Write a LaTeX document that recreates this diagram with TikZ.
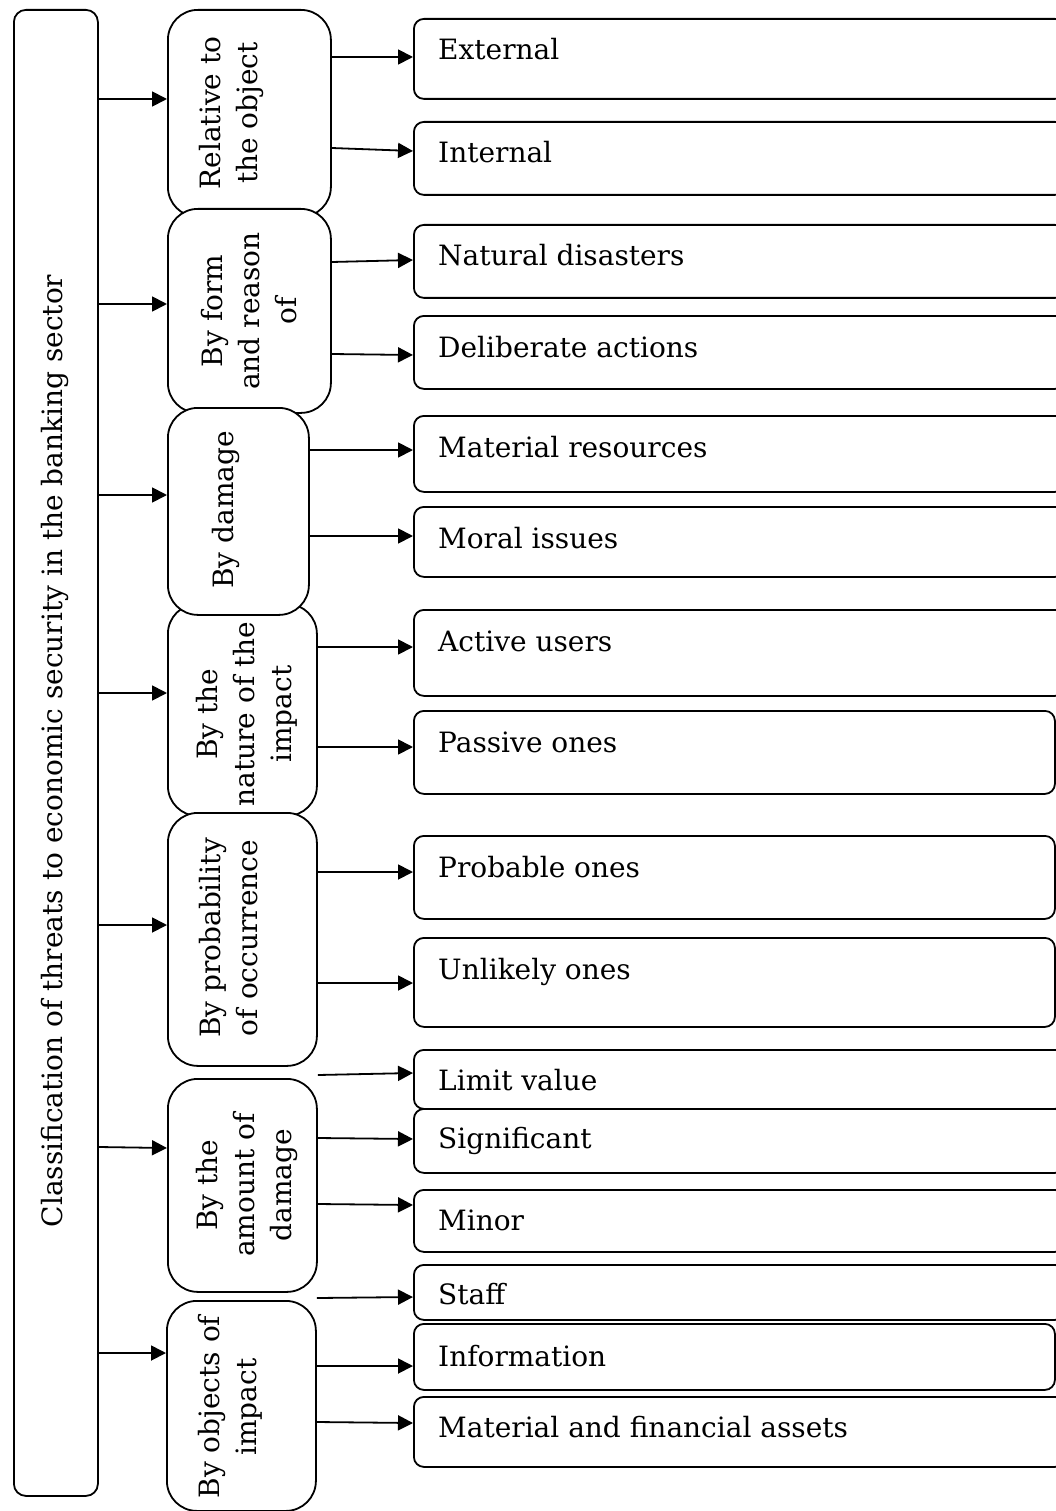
\documentclass[tikz,border=0pt]{standalone}
\usepackage{fontspec}
\setmainfont{DejaVu Serif}
\usetikzlibrary{arrows.meta}
\begin{document}
\begin{tikzpicture}[x=1pt, y=-1pt,
  boxbase/.style={draw=black, line width=1.8pt, fill=white, inner sep=0pt, anchor=north west},
  titlebox/.style={boxbase, rounded corners=12pt},
  groupbox/.style={boxbase, rounded corners=30pt},
  leafbox/.style={boxbase, rounded corners=10pt},
  vtext/.style={rotate=90, align=center, inner sep=0pt, font=\fontsize{28}{37}\selectfont},
  htext/.style={anchor=base west, inner sep=0pt, font=\fontsize{28}{37}\selectfont},
  arr/.style={line width=1.8pt, -{Triangle[length=15pt,width=15pt]}}
]
\path[use as bounding box, fill=white] (0,0) rectangle (1056,1511);

% root of the classification
\node[titlebox, minimum width=84pt, minimum height=1486pt] (T) at (13,9) {};
\node[vtext] (Tt) at (55,751) {Classification of threats to economic security in the banking sector};

% classification criteria
\node[groupbox, minimum width=163pt, minimum height=207pt] (m1) at (167,9) {};
\node[vtext] (m1t) at (231,113) {Relative to\\the object};
\node[groupbox, minimum width=163pt, minimum height=204pt] (m2) at (167,208) {};
\node[vtext] (m2t) at (249,311) {By form\\and reason\\of};
\node[groupbox, minimum width=149pt, minimum height=212pt] (m4) at (167,603) {};
\node[vtext] (m4t) at (247,714) {By the\\nature of the\\impact};
\node[groupbox, minimum width=141pt, minimum height=207pt] (m3) at (167,407) {};
\node[vtext] (m3t) at (226,510) {By damage};
\node[groupbox, minimum width=149pt, minimum height=253pt] (m5) at (167,812) {};
\node[vtext] (m5t) at (229,938) {By probability\\of occurrence};
\node[groupbox, minimum width=149pt, minimum height=213pt] (m6) at (167,1078) {};
\node[vtext] (m6t) at (247,1185) {By the\\amount of\\damage};
\node[groupbox, minimum width=149pt, minimum height=210pt] (m7) at (166,1300) {};
\node[vtext] (m7t) at (230,1407) {By objects of\\impact};

% kinds of threats
\node[leafbox, minimum width=651pt, minimum height=80pt] (r1) at (413,18) {};
\node[htext] (r1t) at (438,60) {External};
\node[leafbox, minimum width=651pt, minimum height=73pt] (r2) at (413,121) {};
\node[htext] (r2t) at (438,163) {Internal};
\node[leafbox, minimum width=651pt, minimum height=73pt] (r3) at (413,224) {};
\node[htext] (r3t) at (438,266) {Natural disasters};
\node[leafbox, minimum width=651pt, minimum height=73pt] (r4) at (413,315) {};
\node[htext] (r4t) at (438,357) {Deliberate actions};
\node[leafbox, minimum width=651pt, minimum height=76pt] (r5) at (413,415) {};
\node[htext] (r5t) at (438,457) {Material resources};
\node[leafbox, minimum width=651pt, minimum height=70pt] (r6) at (413,506) {};
\node[htext] (r6t) at (438,548) {Moral issues};
\node[leafbox, minimum width=651pt, minimum height=86pt] (r7) at (413,609) {};
\node[htext] (r7t) at (438,651) {Active users};
\node[leafbox, minimum width=641pt, minimum height=83pt] (r8) at (413,710) {};
\node[htext] (r8t) at (438,752) {Passive ones};
\node[leafbox, minimum width=641pt, minimum height=83pt] (r9) at (413,835) {};
\node[htext] (r9t) at (438,877) {Probable ones};
\node[leafbox, minimum width=641pt, minimum height=89pt] (r10) at (413,937) {};
\node[htext] (r10t) at (438,979) {Unlikely ones};
\node[leafbox, minimum width=651pt, minimum height=59pt] (r11) at (413,1049) {};
\node[htext] (r11t) at (438,1090) {Limit value};
\node[leafbox, minimum width=651pt, minimum height=64pt] (r12) at (413,1108) {};
\node[htext] (r12t) at (438,1148) {Significant};
\node[leafbox, minimum width=651pt, minimum height=62pt] (r13) at (413,1189) {};
\node[htext] (r13t) at (438,1230) {Minor};
\node[leafbox, minimum width=651pt, minimum height=55pt] (r14) at (413,1264) {};
\node[htext] (r14t) at (438,1304) {Staff};
\node[leafbox, minimum width=641pt, minimum height=66pt] (r15) at (413,1323) {};
\node[htext] (r15t) at (438,1366) {Information};
\node[leafbox, minimum width=651pt, minimum height=70pt] (r16) at (413,1396) {};
\node[htext] (r16t) at (438,1437) {Material and financial assets};

% root to criteria
\draw[arr] (T.east |- 0,99)   -- (m1.west |- 0,99);
\draw[arr] (T.east |- 0,304)  -- (m2.west |- 0,304);
\draw[arr] (T.east |- 0,495)  -- (m3.west |- 0,495);
\draw[arr] (T.east |- 0,693)  -- (m4.west |- 0,693);
\draw[arr] (T.east |- 0,925)  -- (m5.west |- 0,925);
\draw[arr] (T.east |- 0,1147) -- (m6.west |- 0,1148);
\draw[arr] (T.east |- 0,1353) -- (m7.west |- 0,1353);

% criteria to kinds
\draw[arr] (m1.east |- 0,57)   -- (r1.west |- 0,57);
\draw[arr] (m1.east |- 0,148)  -- (r2.west |- 0,151);
\draw[arr] (m2.east |- 0,262)  -- (r3.west |- 0,260);
\draw[arr] (m2.east |- 0,354)  -- (r4.west |- 0,355);
\draw[arr] (m3.east |- 0,450)  -- (r5.west |- 0,450);
\draw[arr] (m3.east |- 0,536)  -- (r6.west |- 0,536);
\draw[arr] (m4.east |- 0,647)  -- (r7.west |- 0,647);
\draw[arr] (m4.east |- 0,747)  -- (r8.west |- 0,747);
\draw[arr] (m5.east |- 0,872)  -- (r9.west |- 0,872);
\draw[arr] (m5.east |- 0,983)  -- (r10.west |- 0,983);
\draw[arr] (m6.east |- 0,1075) -- (r11.west |- 0,1073);
\draw[arr] (m6.east |- 0,1138) -- (r12.west |- 0,1139);
\draw[arr] (m6.east |- 0,1204) -- (r13.west |- 0,1205);
\draw[arr] (m7.east |- 0,1298) -- (r14.west |- 0,1297);
\draw[arr] (m7.east |- 0,1366) -- (r15.west |- 0,1366);
\draw[arr] (m7.east |- 0,1422) -- (r16.west |- 0,1423);
\end{tikzpicture}
\end{document}
